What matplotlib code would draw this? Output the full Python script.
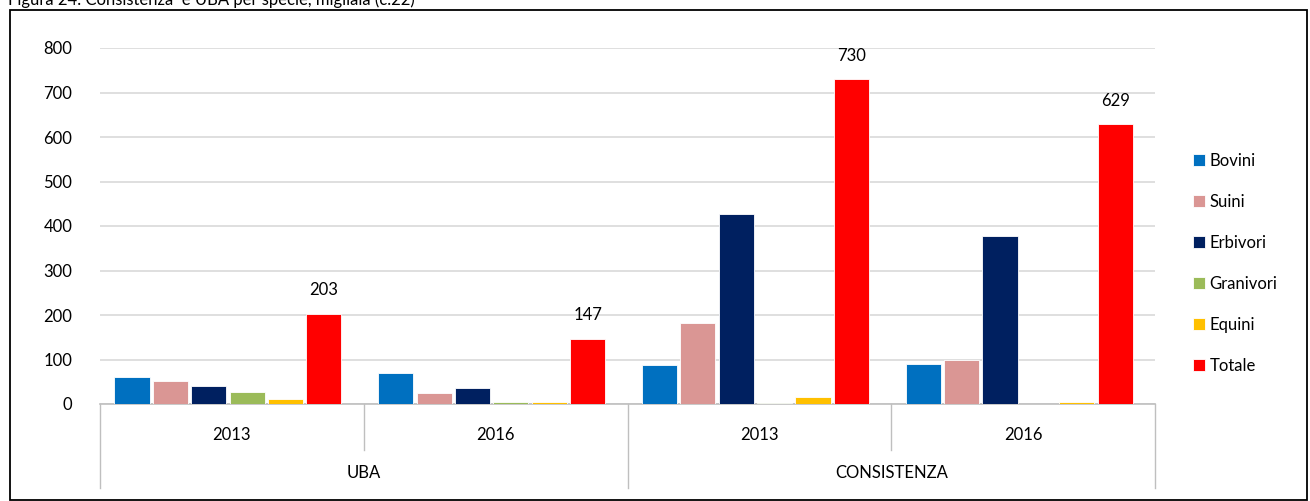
import numpy as np
import matplotlib.pyplot as plt
from matplotlib.patches import Rectangle

plt.rcParams['font.family'] = ['Lato', 'DejaVu Sans']

# Dati (migliaia)
gruppi = ['UBA', 'CONSISTENZA']
anni = ['2013', '2016', '2013', '2016']
specie = ['Bovini', 'Suini', 'Erbivori', 'Granivori', 'Equini', 'Totale']
colori = ['#0070C0', '#DA9694', '#002060', '#9BBB59', '#FFC000', '#FF0000']

bovini = [61, 69, 87, 91]
suini = [52, 24, 181, 100]
erbivori = [41, 37, 427, 378]
granivori = [28, 5, 3, 1]
equini = [11, 4, 15, 5]
totale = [203, 147, 730, 629]
valori = [bovini, suini, erbivori, granivori, equini, totale]

fig = plt.figure(figsize=(13.1, 5.01), dpi=100)
ax = fig.add_axes([100 / 1310, 1 - 404 / 501, 1055 / 1310, 356 / 501])

x = np.arange(len(anni))
passo = 0.1455
larg = 0.133
for i, (nome, col, v) in enumerate(zip(specie, colori, valori)):
    pos = x + (i - 2.5) * passo - 0.015
    bars = ax.bar(pos, v, width=larg, color=col, edgecolor='white', linewidth=0.6, label=nome, zorder=3)
    if nome == 'Totale':
        for b, val in zip(bars, v):
            ax.annotate(str(val), (b.get_x() + b.get_width() / 2, val), xytext=(0, 11),
                        textcoords='offset points', ha='center', va='bottom', fontsize=12)

ax.set_xlim(-0.5, 3.5)
ax.set_ylim(0, 800)
ax.set_yticks(range(0, 801, 100))
ax.yaxis.grid(True, color='#d9d9d9', linewidth=1.2, zorder=0)
ax.set_axisbelow(True)
for s in ['left', 'right', 'top']:
    ax.spines[s].set_visible(False)
ax.spines['bottom'].set_color('#bfbfbf')
ax.spines['bottom'].set_linewidth(1.2)
ax.tick_params(axis='y', length=0, labelsize=12, pad=20)
ax.set_xticks([])

# asse categorie a due livelli
tr = ax.get_xaxis_transform()
for xb in [-0.5, 1.5, 3.5]:
    ax.plot([xb, xb], [0, -0.236], color='#bfbfbf', lw=1, transform=tr, clip_on=False)
for xb in [0.5, 2.5]:
    ax.plot([xb, xb], [0, -0.129], color='#bfbfbf', lw=1, transform=tr, clip_on=False)
for xi, a in zip(x, anni):
    ax.text(xi, -0.087, a, transform=tr, ha='center', va='center', fontsize=12)
for xi, g in zip([0.5, 2.5], gruppi):
    ax.text(xi, -0.194, g, transform=tr, ha='center', va='center', fontsize=12)

ax.legend(loc='upper left', bbox_to_anchor=(1178 / 1310, 1 - 138 / 501), bbox_transform=fig.transFigure,
          frameon=False, fontsize=12, handlelength=0.7, handleheight=0.7, handletextpad=0.3,
          labelspacing=1.5)

fig.patches.append(Rectangle((10 / 1310, 1 / 501), 1297 / 1310, 490 / 501, transform=fig.transFigure,
                             fill=False, edgecolor='black', linewidth=1.3))
fig.text(8 / 1310, 1 - 5 / 501, 'Figura 24: Consistenza  e UBA per specie, migliaia (c.22)',
         fontsize=12, va='baseline', ha='left')

fig.savefig('out.png', dpi=100)
